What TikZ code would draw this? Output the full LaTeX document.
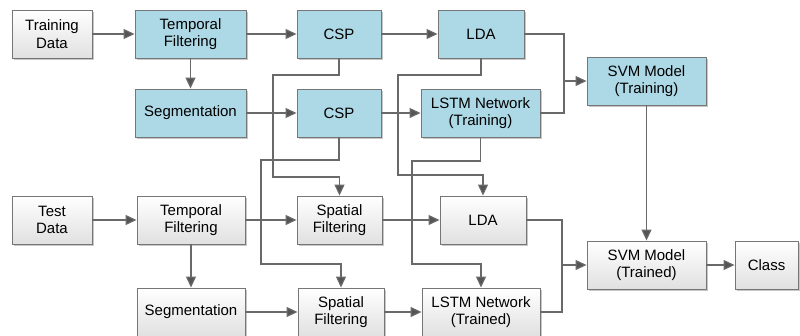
\documentclass[tikz,border=0pt]{standalone}
\usepackage{fontspec}
\setmainfont{Liberation Sans}
\usetikzlibrary{arrows.meta,shadows}
\definecolor{boxblue}{RGB}{173,216,230}
\definecolor{boxline}{RGB}{118,118,118}
\definecolor{wirecol}{RGB}{105,105,105}
\definecolor{tipcol}{RGB}{85,85,85}
\begin{document}
\begin{tikzpicture}[x=1pt,y=-1pt,
  box/.style={draw=boxline, line width=0.9pt, inner sep=0pt, align=center,
    minimum height=48pt, font=\fontsize{15}{17.5}\selectfont,
    drop shadow={shadow xshift=1.5pt, shadow yshift=-1.5pt, fill=black, opacity=0.22}},
  bluebox/.style={box, fill=boxblue},
  greybox/.style={box, top color=white, bottom color=black!12},
  wire/.style={draw=wirecol, line width=1.2pt},
  arr/.style={wire, -{Triangle[length=11pt,width=10pt,fill=tipcol]}}
]
\useasboundingbox (0,0) rectangle (800,335);
\fill[white] (0,0) rectangle (800,335);

% training row
\node[greybox, minimum width=80pt]  (train) at (52,34)    {Training\\Data};
\node[bluebox, minimum width=111pt] (tf1)   at (190.5,34) {Temporal\\Filtering};
\node[bluebox, minimum width=84pt]  (csp1)  at (339,34)   {CSP};
\node[bluebox, minimum width=86pt]  (lda1)  at (481,34)   {LDA};
\node[bluebox, minimum width=111pt] (seg1)  at (190.5,113){Segmentation};
\node[bluebox, minimum width=84pt]  (csp2)  at (339,113)  {CSP};
\node[bluebox, minimum width=119pt] (lstm1) at (480.5,113){LSTM Network\\(Training)};
\node[bluebox, minimum width=119pt] (svm1)  at (646.5,81) {SVM Model\\(Training)};

% test row
\node[greybox, minimum width=80pt]  (test)  at (52,220)   {Test\\Data};
\node[greybox, minimum width=108pt] (tf2)   at (191,220)  {Temporal\\Filtering};
\node[greybox, minimum width=85pt]  (sp1)   at (339.5,220){Spatial\\Filtering};
\node[greybox, minimum width=86pt]  (lda2)  at (483,220)  {LDA};
\node[greybox, minimum width=119pt] (svm2)  at (646.5,265){SVM Model\\(Trained)};
\node[greybox, minimum width=63pt]  (class) at (766.5,265){Class};
\node[greybox, minimum width=108pt] (seg2)  at (191,312)  {Segmentation};
\node[greybox, minimum width=86pt]  (sp2)   at (341,312)  {Spatial\\Filtering};
\node[greybox, minimum width=118pt] (lstm2) at (481,312)  {LSTM Network\\(Trained)};

\coordinate (j1) at (564,81);
\coordinate (j2) at (562,265);

% training connectors
\draw[arr] (train.east) -- (tf1.west);
\draw[arr] (tf1.east) -- (csp1.west);
\draw[arr] (csp1.east) -- (lda1.west);
\draw[arr] (tf1.south) -- (seg1.north);
\draw[arr] (seg1.east) -- (csp2.west);
\draw[arr] (csp2.east) -- (lstm1.west);
\draw[wire] (lda1.east) -| (j1);
\draw[wire] (lstm1.east) -| (j1);
\draw[arr] (j1) -- (svm1.west);
\draw[arr] (svm1.south) -- (svm2.north);

% cross connectors
\draw[arr] (csp1.south) |- (273,75) -- (273,177) -| (sp1.north);
\draw[arr] (csp2.south) |- (261,160) -- (261,264) -| (sp2.north);
\draw[arr] (lda1.south) |- (398,75) -- (398,175) -| (lda2.north);
\draw[arr] (lstm1.south) |- (412,161) -- (412,264) -| (lstm2.north);

% test connectors
\draw[arr] (test.east) -- (tf2.west);
\draw[arr] (tf2.east) -- (sp1.west);
\draw[arr] (sp1.east) -- (lda2.west);
\draw[arr] (tf2.south) -- (seg2.north);
\draw[arr] (seg2.east) -- (sp2.west);
\draw[arr] (sp2.east) -- (lstm2.west);
\draw[wire] (lda2.east) -| (j2);
\draw[wire] (lstm2.east) -| (j2);
\draw[arr] (j2) -- (svm2.west);
\draw[arr] (svm2.east) -- (class.west);
\end{tikzpicture}
\end{document}
